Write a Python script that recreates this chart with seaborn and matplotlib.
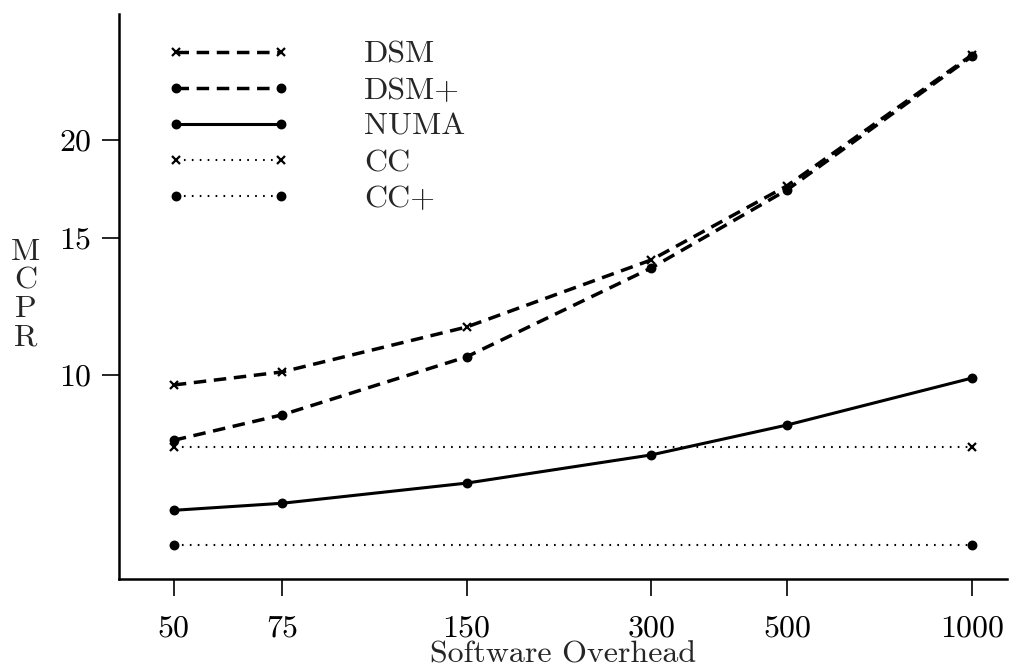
import matplotlib
matplotlib.use("Agg")
import matplotlib.pyplot as plt
import seaborn as sns
import pandas as pd
from matplotlib.ticker import FixedLocator, NullLocator, FixedFormatter

overhead = [50, 75, 150, 300, 500, 1000]
dsm = [9.71, 10.09, 11.52, 14.04, 17.48, 25.7]
dsm_plus = [8.25, 8.89, 10.55, 13.71, 17.27, 25.6]
numa = [6.71, 6.85, 7.27, 7.90, 8.63, 9.91]
cc_x = [50, 1000]
cc = [8.09, 8.09]
cc_plus = [6.06, 6.06]

xticks = [50, 75, 150, 300, 500, 1000]
yticks = [10, 15, 20]

sns.set_style("ticks")
plt.rcParams['font.family'] = ['cmr10', 'DejaVu Serif']
plt.rcParams['axes.formatter.use_mathtext'] = True

fig = plt.figure(figsize=(10.17, 6.67), dpi=100)
ax = fig.add_axes([0.117, 0.132, 0.873, 0.847])

series = [
    ("DSM", overhead, dsm, (0, (3.6, 2.2)), "x", 2.5),
    ("DSM+", overhead, dsm_plus, (0, (3.6, 2.2)), "o", 2.5),
    ("NUMA", overhead, numa, "-", "o", 2.2),
    ("CC", cc_x, cc, (0, (0.8, 3.0)), "x", 1.5),
    ("CC+", cc_x, cc_plus, (0, (0.8, 3.0)), "o", 1.5),
]

for name, xs, ys, ls, mk, lw in series:
    df = pd.DataFrame({"x": xs, "y": ys})
    ms = 6 if mk == "x" else 5.5
    sns.lineplot(data=df, x="x", y="y", ax=ax, color="black", linestyle=ls,
                 linewidth=lw, marker=mk, markersize=ms, markeredgewidth=1.6,
                 markeredgecolor="black", markerfacecolor="black", label=name)

ax.set_xscale("log")
ax.set_yscale("log")
ax.set_xlim(40.7, 1140)
ax.set_ylim(5.48, 29.0)

ax.xaxis.set_major_locator(FixedLocator(xticks))
ax.xaxis.set_major_formatter(FixedFormatter([str(v) for v in xticks]))
ax.xaxis.set_minor_locator(NullLocator())
ax.yaxis.set_major_locator(FixedLocator(yticks))
ax.yaxis.set_major_formatter(FixedFormatter([str(v) for v in yticks]))
ax.yaxis.set_minor_locator(NullLocator())

ax.tick_params(axis="both", direction="out", length=12, width=1.2,
               labelsize=23, color="black", labelcolor="black")
ax.tick_params(axis="x", pad=14)
ax.tick_params(axis="y", pad=8)

sns.despine(ax=ax)
for s in ["left", "bottom"]:
    ax.spines[s].set_linewidth(1.8)
    ax.spines[s].set_color("black")

ax.set_xlabel("Software Overhead", fontsize=23, labelpad=-1)
ax.set_ylabel("")
fig.text(0.025, 0.557, "M\nC\nP\nR", fontsize=23, ha="center", va="center",
         linespacing=1.05)

leg = ax.legend(loc="upper left", bbox_to_anchor=(0.053, 0.953), frameon=False,
                fontsize=23, handlelength=3.9, handletextpad=2.3,
                labelspacing=0.24, borderpad=0, borderaxespad=0, numpoints=2)

fig.savefig("out.png", dpi=100)
